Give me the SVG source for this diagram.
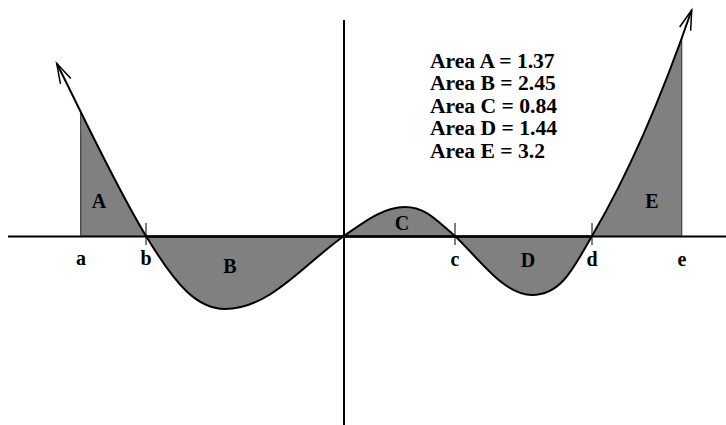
<svg xmlns="http://www.w3.org/2000/svg" width="726" height="425" viewBox="0 0 726 425">
<style>
.axis{stroke:#000;stroke-width:2;fill:none}
.thick{stroke:#000;stroke-width:2.6;fill:none}
.tick{stroke:#000;stroke-width:1;fill:none}
.edge{stroke:#404040;stroke-width:1.2;fill:none}
.curve{stroke:#000;stroke-width:2;fill:none}
.shade{fill:#808080;stroke:none}
.lbl{font-family:"Liberation Serif","Times New Roman",serif;font-weight:bold;font-size:20px;text-anchor:middle;fill:#000}
.info{font-family:"Liberation Serif","Times New Roman",serif;font-weight:bold;font-size:21.6px;fill:#000}
</style>
<defs>
<marker id="arr" markerUnits="userSpaceOnUse" markerWidth="30" markerHeight="20" viewBox="-25 -10 30 20" refX="0" refY="0" orient="auto-start-reverse" overflow="visible">
<path d="M-20,-5.8 L0,0 L-20,5.8" fill="none" stroke="#000" stroke-width="1.5"/>
</marker>
<clipPath id="clipAE"><rect x="80.5" y="0" width="601.2" height="425"/></clipPath>
</defs>
<rect width="726" height="425" fill="#fff"/>
<g id="shading" clip-path="url(#clipAE)">
<path class="shade" d="M56.7,63.3 C86.7,123.3 116,186.5 146,236 C176,285.5 197,309 225,309 C270,309 304,264 344,236 C364,222 383,207 405,207 C425,207 435,219 455,236 C480,259.75 504,295 532,295 C562,295 574,266.6 592,236 C627,176.5 661.7,97 691.7,10 L691.7,236 L56.7,236 Z"/>
</g>
<g id="axes">
<line class="axis" x1="8" y1="236.5" x2="726" y2="236.5"/>
<line class="thick" x1="146" y1="236.5" x2="592" y2="236.5"/>
<line class="axis" x1="344" y1="20" x2="344" y2="425"/>
<line class="edge" x1="80.7" y1="113" x2="80.7" y2="236"/>
<line class="edge" x1="681.7" y1="38.5" x2="681.7" y2="236"/>
<line class="tick" x1="146" y1="223" x2="146" y2="245"/>
<line class="tick" x1="455" y1="223" x2="455" y2="245"/>
<line class="tick" x1="592" y1="223" x2="592" y2="245"/>
</g>
<g id="connectors">
<path class="curve" marker-start="url(#arr)" marker-end="url(#arr)" d="M56.7,63.3 C86.7,123.3 116,186.5 146,236 C176,285.5 197,309 225,309 C270,309 304,264 344,236 C364,222 383,207 405,207 C425,207 435,219 455,236 C480,259.75 504,295 532,295 C562,295 574,266.6 592,236 C627,176.5 661.7,97 691.7,10"/>
</g>
<g id="region-labels">
<text class="lbl" x="99" y="208">A</text>
<text class="lbl" x="230" y="273">B</text>
<text class="lbl" x="402" y="230">C</text>
<text class="lbl" x="528" y="267">D</text>
<text class="lbl" x="652" y="208">E</text>
</g>
<g id="point-labels">
<text class="lbl" x="81" y="265">a</text>
<text class="lbl" x="146" y="265">b</text>
<text class="lbl" x="455" y="266">c</text>
<text class="lbl" x="592" y="266">d</text>
<text class="lbl" x="682" y="266">e</text>
</g>
<g id="areas">
<text class="info" x="430" y="67.5">Area A = 1.37</text>
<text class="info" x="430" y="90">Area B = 2.45</text>
<text class="info" x="430" y="112.5">Area C = 0.84</text>
<text class="info" x="430" y="135">Area D = 1.44</text>
<text class="info" x="430" y="157.5">Area E = 3.2</text>
</g>
</svg>
